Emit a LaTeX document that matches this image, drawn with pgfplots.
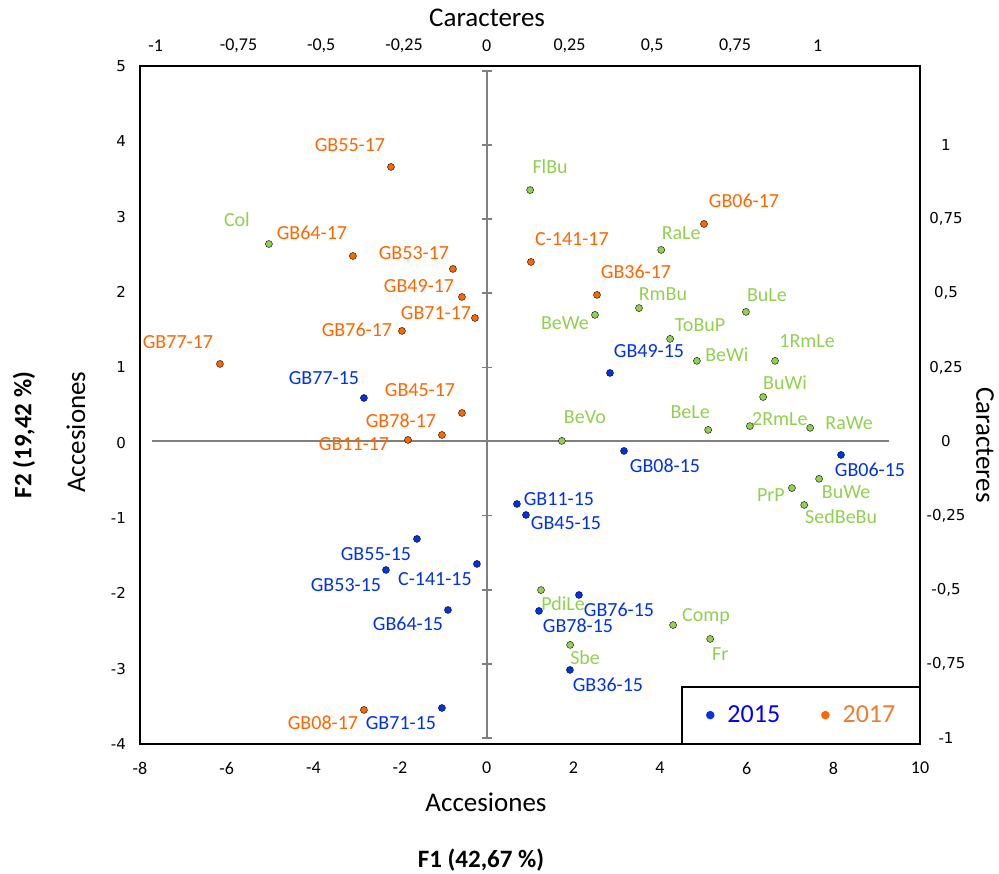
\documentclass[border=0pt]{standalone}
\usepackage{fontspec}
\setmainfont{Carlito}
\newfontfamily\numfont{DejaVu Sans}
\usepackage{pgfplots}
\usepackage{pgfplotstable}
\pgfplotsset{compat=1.18}

\definecolor{acc15}{RGB}{0,51,230}
\definecolor{acc17}{RGB}{255,102,0}
\definecolor{carac}{RGB}{146,208,80}
\definecolor{leg15}{RGB}{0,0,255}
\definecolor{leg17}{RGB}{237,125,49}
\definecolor{axgray}{RGB}{128,128,128}

\newcommand\labfont{\fontsize{20}{24}\selectfont}
\newcommand\titlefont{\fontsize{27}{32}\selectfont}
\newcommand\tickfont{\fontsize{18}{22}\selectfont}
\newcommand\sidefont{\numfont\fontsize{15}{18}\selectfont}

% Accessions 2017: F1, F2 scores; label offsets (pt) and name
\pgfplotstableread{
x      y      dx  dy  name
-2.209 3.660 -41  15  GB55-17
-3.086 2.478 -41  16  GB64-17
-0.778 2.306 -39   9  GB53-17
-0.570 1.934 -43   4  GB49-17
-0.270 1.655 -39  -2  GB71-17
-1.955 1.483 -45  -6  GB76-17
-6.155 1.045 -42  15  GB77-17
-0.570 0.394 -42  16  GB45-17
-1.032 0.102 -41   7  GB78-17
-1.816 0.036 -54 -11  GB11-17
 1.022 2.399  41  16  C-141-17
 2.546 1.961  39  16  GB36-17
 5.015 2.903  40  16  GB06-17
-2.832 -3.548 -41 -20 GB08-17
}\tabacc

% Accessions 2015
\pgfplotstableread{
x      y      dx  dy  name
-2.832  0.593 -40  13 GB77-15
 2.846  0.925  39  15 GB49-15
 3.169 -0.110  41 -22 GB08-15
 8.177 -0.163  29 -22 GB06-15
 0.699 -0.814  42  -2 GB11-15
 0.907 -0.960  40 -15 GB45-15
-1.609 -1.278 -41 -22 GB55-15
-2.324 -1.690 -40 -22 GB53-15
-0.224 -1.610 -42 -22 C-141-15
-0.893 -2.221 -40 -21 GB64-15
 2.130 -2.022  40 -22 GB76-15
 1.207 -2.234  39 -22 GB78-15
 1.922 -3.017  38 -22 GB36-15
-1.032 -3.522 -41 -22 GB71-15
}\tabaccold

% Characters: loadings on F1, F2
\pgfplotstableread{
x      y      dx  dy  name
-0.658  0.666 -32  18 Col
 0.131  0.848  20  17 FlBu
 0.527  0.646  20  10 RaLe
 0.460  0.450  24   8 RmBu
 0.783  0.437  21  10 BuLe
 0.327  0.427 -30 -15 BeWe
 0.554  0.346  30   7 ToBuP
 0.635  0.272  30  -1 BeWi
 0.871  0.272  32  13 1RmLe
 0.835  0.150  22   8 BuWi
 0.227  0.002  23  17 BeVo
 0.669  0.039 -18  11 BeLe
 0.795  0.052  30   1 2RmLe
 0.977  0.046  39  -2 RaWe
 1.004 -0.126  27 -20 BuWe
 0.922 -0.157 -21 -13 PrP
 0.959 -0.214  37 -19 SedBeBu
 0.164 -0.501  22 -20 PdiLe
 0.563 -0.619  33   4 Comp
 0.675 -0.666  10 -22 Fr
 0.252 -0.686  15 -20 Sbe
}\tabcarac

\pgfplotsset{
  labelled/.style={
    only marks, mark=*, mark size=3.5pt,
    mark options={draw=none, fill=#1},
    point meta=explicit symbolic,
    visualization depends on={\thisrow{dx}\as\ldx},
    visualization depends on={\thisrow{dy}\as\ldy},
    nodes near coords={\pgfplotspointmeta},
    nodes near coords style={anchor=base, inner sep=0pt, font=\labfont,
      text=#1, xshift=\ldx pt, yshift=\ldy pt},
  },
}

\begin{document}
\begin{tikzpicture}
\path[use as bounding box] (0,0) rectangle (999pt,874pt);

% Characters (secondary scale, top and right)
\begin{axis}[
  at={(140pt,130pt)}, anchor=south west,
  scale only axis, width=780pt, height=678pt,
  xmin=-1.0474, xmax=1.3089, ymin=-1.0202, ymax=1.2664,
  axis x line*=top, axis y line*=right,
  axis line style={draw=none},
  major tick length=0pt,
  xtick={-1,-0.75,-0.5,-0.25,0,0.25,0.5,0.75,1},
  xticklabels={-1,{-0,75},{-0,5},{-0,25},0,{0,25},{0,5},{0,75},1},
  ytick={-1,-0.75,-0.5,-0.25,0,0.25,0.5,0.75,1},
  yticklabels={-1,{-0,75},{-0,5},{-0,25},0,{0,25},{0,5},{0,75},1},
  xticklabel style={font=\tickfont, anchor=center, inner sep=0pt, yshift=20pt},
  yticklabel style={font=\sidefont, anchor=center, inner sep=0pt, xshift=26pt},
  xlabel={Caracteres}, ylabel={Caracteres},
  every axis x label/.style={at={(axis description cs:0.445,1.0708)}, anchor=center, font=\titlefont},
  every axis y label/.style={at={(axis description cs:1.0833,0.441)}, rotate=-90, anchor=center, font=\titlefont},
  clip=false,
]
\addplot[axgray, line width=2pt, mark=-, mark size=5pt, mark options={line width=1.6pt}]
  coordinates {(0,-1) (0,-0.75) (0,-0.5) (0,-0.25) (0,0) (0,0.25) (0,0.5) (0,0.75) (0,1) (0,1.25)};
\addplot[axgray, line width=2pt] coordinates {(-1.011,0) (1.215,0)};
\addplot[labelled=carac] table[x=x, y=y, meta=name] {\tabcarac};
\end{axis}

% Accessions (primary scale, bottom and left)
\begin{axis}[
  at={(140pt,130pt)}, anchor=south west,
  scale only axis, width=780pt, height=678pt,
  xmin=-8, xmax=10, ymin=-4, ymax=5,
  axis line style={black, line width=1.4pt},
  major tick length=0pt,
  xtick={-8,-6,-4,-2,0,2,4,6,8,10},
  xticklabels={-8,-6,-4,-2,0,2,4,6,8,10},
  ytick={-4,-3,-2,-1,0,1,2,3,4,5},
  yticklabels={-4,-3,-2,-1,0,1,2,3,4,5},
  xticklabel style={font=\tickfont, anchor=center, inner sep=0pt, yshift=-24pt},
  yticklabel style={font=\sidefont, anchor=east, inner sep=0pt, xshift=-14pt},
  xlabel={Accesiones}, ylabel={Accesiones},
  xlabel style={at={(axis description cs:0.4436,-0.0855)}, anchor=center, font=\titlefont},
  ylabel style={at={(axis description cs:-0.082,0.46)}, anchor=center, font=\titlefont},
  legend columns=2,
  legend image code/.code={\fill[#1] (0pt,0pt) circle (3.5pt);},
  legend style={at={(1,0)}, anchor=south east, draw=black, line width=1.4pt, fill=white,
    inner xsep=24pt, inner ysep=19pt, font=\fontsize{26}{30}\selectfont,
    nodes={inner sep=0pt},
    /tikz/every odd column/.append style={column sep=13pt},
    /tikz/every even column/.append style={column sep=41pt}},
  clip=false,
]
\addplot[labelled=acc15, forget plot] table[x=x, y=y, meta=name] {\tabaccold};
\addplot[labelled=acc17, forget plot] table[x=x, y=y, meta=name] {\tabacc};
\addlegendimage{acc15}
\addlegendentry{\textcolor{leg15}{2015}}
\addlegendimage{acc17}
\addlegendentry{\textcolor{leg17}{2017}}
\end{axis}

\node[font=\bfseries\fontsize{25}{30}\selectfont] at (481pt,14pt) {F1 (42,67 \%)};
\node[font=\bfseries\fontsize{25}{30}\selectfont, rotate=90] at (24pt,439pt) {F2 (19,42 \%)};
\end{tikzpicture}
\end{document}
